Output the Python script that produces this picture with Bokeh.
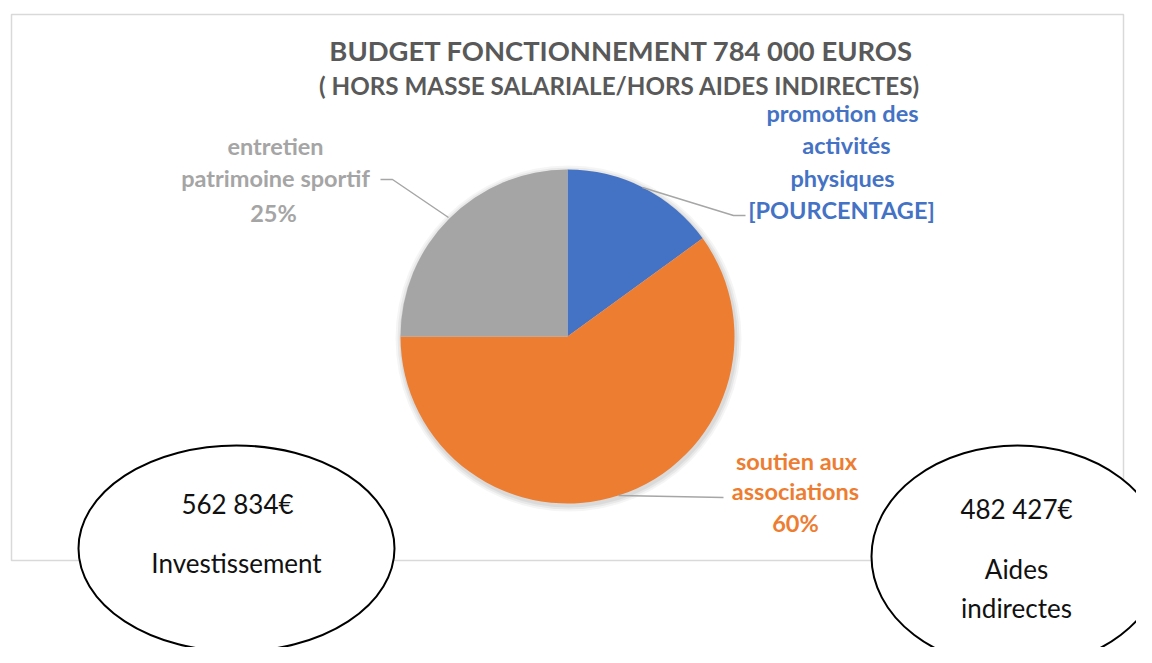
import math
from bokeh.plotting import figure
from bokeh.models import Range1d
from bokeh.core.properties import value
from bokeh.embed import file_html
from bokeh.resources import INLINE

# ---- data ----
categories = ["promotion des activités physiques", "soutien aux associations", "entretien patrimoine sportif"]
shares = [15, 60, 25]
colors = ["#4472C4", "#ED7D31", "#A5A5A5"]
title_lines = ["BUDGET FONCTIONNEMENT 784 000 EUROS", "( HORS MASSE SALARIALE/HORS AIDES INDIRECTES)"]
label_blue = ["promotion des", "activités", "physiques", "[POURCENTAGE]"]
label_orange = ["soutien aux", "associations", "60%"]
label_gray = ["entretien", "patrimoine sportif", "25%"]
bubble_left = ["562 834€", "Investissement"]
bubble_right = ["482 427€", "Aides", "indirectes"]

W, H = 1136, 647
IMG_H = 663

def Y(img_y):
    return IMG_H - img_y

p = figure(width=W, height=H, output_backend="svg", toolbar_location=None,
           x_range=Range1d(0, W), y_range=Range1d(IMG_H - H, IMG_H),
           min_border=0)
p.axis.visible = False
p.grid.visible = False
p.outline_line_color = None
p.background_fill_color = "white"
p.border_fill_color = "white"

FONT = value("Lato")

# frame
p.quad(left=[11], right=[1123], top=[Y(14)], bottom=[Y(560)],
       fill_color=None, line_color="#D9D9D9", line_width=1.5)

# pie
cx, cy, r = 567, Y(336), 167
total = sum(shares)
cum = 0
starts, ends = [], []
for s in shares:
    a0 = math.pi / 2 - 2 * math.pi * cum / total
    cum += s
    a1 = math.pi / 2 - 2 * math.pi * cum / total
    starts.append(a0)
    ends.append(a1)

# soft shadow
for k, al in [(6, 0.04), (4, 0.05), (2, 0.06)]:
    p.circle(x=[cx + 1], y=[cy - 2], radius=r + k, radius_units="screen",
             fill_color="black", fill_alpha=al, line_color=None)

p.wedge(x=[cx] * 3, y=[cy] * 3, radius=r, radius_units="screen",
        start_angle=starts, end_angle=ends, direction="clock",
        fill_color=colors, line_color=None)

# leader lines
lc = "#A6A6A6"
p.line(x=[642, 733, 745], y=[Y(187), Y(215), Y(215)], line_color=lc, line_width=1.5)
p.line(x=[380, 392, 448], y=[Y(179), Y(179), Y(217)], line_color=lc, line_width=1.5)
p.line(x=[618, 723], y=[Y(495), Y(497)], line_color=lc, line_width=1.5)

def put(lines, xs, ys, color, size, bold=True):
    p.text(x=xs, y=[Y(v) for v in ys], text=lines, text_font=FONT,
           text_font_size=size, text_font_style="bold" if bold else "normal",
           text_color=color, text_align="center", text_baseline="middle")

# title
put(title_lines[:1], [621], [50], "#595959", "27.4px")
put(title_lines[1:], [619], [85], "#595959", "24.2px")

put(label_blue, [842, 846, 842, 841], [112, 144, 177, 209], "#4472C4", "23.5px")
put(label_gray, [275, 275, 273], [145, 177, 212], "#A5A5A5", "23.5px")
put(label_orange, [796, 795, 795], [460, 490, 522], "#ED7D31", "23.5px")

# bubbles
p.ellipse(x=[236, 1017], y=[Y(548), Y(556)], width=[316, 292], height=[206, 222],
          fill_color="white", line_color="black", line_width=2)
put(bubble_left, [237, 236], [503, 562], "#111111", "26px", bold=False)
put(bubble_right, [1016, 1016, 1016], [508, 568, 607], "#111111", "26px", bold=False)

open("out.html", "w").write(file_html(p, INLINE))
